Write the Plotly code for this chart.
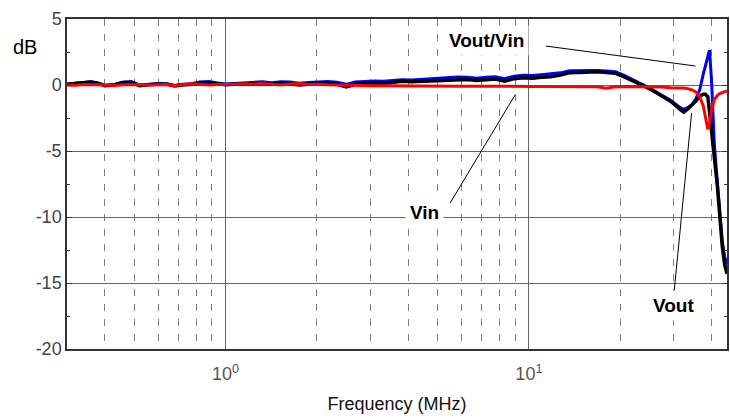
import math
import plotly.graph_objects as go

# ---------------- data ----------------
freq_mhz = [0.30, 0.32, 0.34, 0.36, 0.38, 0.40, 0.43, 0.46, 0.49, 0.52,
            0.56, 0.60, 0.64, 0.68, 0.72, 0.77, 0.82, 0.88, 0.94, 1.00,
            1.07, 1.15, 1.23, 1.32, 1.42, 1.52, 1.63, 1.75, 1.88, 2.02,
            2.17, 2.33, 2.50, 2.68, 2.88, 3.09, 3.32, 3.56, 3.82, 4.10,
            4.40, 4.72, 5.07, 5.44, 5.84, 6.27, 6.73, 7.22, 7.75, 8.32,
            8.93, 9.58, 10.3, 11.0, 11.8, 12.7, 13.6, 14.6, 15.7, 16.8,
            18.0, 19.3, 20.7, 22.2, 23.8, 25.5, 27.4, 29.4, 31.5, 32.4,
            33.5, 34.6, 35.6, 36.6, 37.6, 38.2, 38.9, 39.4, 40.0, 40.9,
            41.8, 42.6, 43.4, 44.2, 45.0]

vout_db = [0.05, 0.10, 0.20, 0.22, 0.12, -0.05, 0.00, 0.18, 0.20, -0.05,
           0.02, 0.08, 0.06, -0.08, 0.00, 0.05, 0.12, 0.15, 0.10, 0.02,
           0.05, 0.08, 0.10, 0.12, 0.06, 0.12, 0.10, 0.00, 0.05, 0.10,
           0.12, 0.05, -0.15, 0.05, 0.12, 0.15, 0.12, 0.20, 0.28, 0.25,
           0.28, 0.30, 0.35, 0.38, 0.45, 0.42, 0.35, 0.42, 0.45, 0.28,
           0.48, 0.55, 0.52, 0.58, 0.62, 0.75, 0.92, 0.95, 0.98, 1.00,
           0.95, 0.88, 0.60, 0.30, -0.05, -0.40, -0.85, -1.25, -1.85, -2.05,
           -1.80, -1.50, -1.20, -0.85, -0.70, -0.70, -0.90, -2.00, -3.30, -5.20,
           -7.60, -9.90, -12.20, -13.60, -14.30]

vout_vin_db = [0.07, 0.14, 0.24, 0.25, 0.15, -0.02, 0.04, 0.22, 0.24, 0.00,
               0.06, 0.12, 0.10, -0.04, 0.05, 0.10, 0.22, 0.26, 0.16, 0.08,
               0.12, 0.16, 0.20, 0.24, 0.18, 0.25, 0.22, 0.14, 0.18, 0.24,
               0.26, 0.20, 0.05, 0.22, 0.28, 0.30, 0.28, 0.34, 0.40, 0.38,
               0.42, 0.45, 0.50, 0.54, 0.60, 0.58, 0.52, 0.58, 0.62, 0.48,
               0.66, 0.74, 0.72, 0.78, 0.84, 0.92, 1.08, 1.10, 1.08, 1.10,
               1.06, 1.00, 0.72, 0.40, 0.02, -0.35, -0.80, -1.18, -1.70, -1.85,
               -1.70, -1.45, -1.00, -0.35, 0.85, 1.50, 2.30, 2.65, 0.40, -4.60,
               -7.30, -9.60, -11.80, -13.00, -13.60]

vin_db = [0.00, -0.02, 0.03, 0.05, 0.02, 0.00, -0.03, 0.02, 0.05, 0.03,
          0.00, 0.02, 0.04, -0.04, 0.02, 0.10, 0.06, 0.00, 0.03, 0.02,
          0.05, 0.10, 0.06, 0.12, 0.05, 0.00, 0.08, 0.12, 0.04, 0.06,
          0.02, 0.00, -0.04, -0.05, -0.05, -0.06, -0.06, -0.07, -0.08, -0.08,
          -0.08, -0.08, -0.08, -0.08, -0.09, -0.09, -0.10, -0.10, -0.10, -0.10,
          -0.10, -0.10, -0.11, -0.11, -0.12, -0.12, -0.12, -0.12, -0.12, -0.14,
          -0.25, -0.14, -0.12, -0.12, -0.12, -0.14, -0.16, -0.20, -0.20, -0.22,
          -0.28, -0.38, -0.55, -0.90, -1.60, -2.30, -3.35, -2.90, -1.90, -1.10,
          -0.80, -0.65, -0.55, -0.50, -0.45]

x_range_mhz = [0.3, 45.0]
y_range_db = [-20, 5]
y_major = [-20, -15, -10, -5, 0, 5]
y_major_text = ["-20", "-15", "-10", "-5", "0", "5"]
x_major = [1, 10]
x_major_text = ["10<sup>0</sup>", "10<sup>1</sup>"]
x_minor = [0.4, 0.5, 0.6, 0.7, 0.8, 0.9, 2, 3, 4, 5, 6, 7, 8, 9, 20, 30, 40]

# callouts: (label, text_freq, text_db, line_start_freq, line_start_db, line_end_freq, line_end_db)
callouts = [
    ("Vout/Vin", 7.23, 3.37, 11.38, 2.95, 35.4, 1.44),
    ("Vin", 4.52, -9.66, 5.50, -8.94, 9.0, -0.76),
    ("Vout", 30.0, -16.74, 30.0, -16.06, 34.4, -2.12),
]

# ---------------- figure ----------------
lx0, lx1 = math.log10(x_range_mhz[0]), math.log10(x_range_mhz[1])


def xpaper(f):
    return (math.log10(f) - lx0) / (lx1 - lx0)


fig = go.Figure()
fig.add_trace(go.Scatter(x=freq_mhz, y=vout_vin_db, mode="lines",
                         line=dict(color="#0000ff", width=3), name="Vout/Vin"))
fig.add_trace(go.Scatter(x=freq_mhz, y=vout_db, mode="lines",
                         line=dict(color="#000000", width=3.5), name="Vout"))
fig.add_trace(go.Scatter(x=freq_mhz, y=vin_db, mode="lines",
                         line=dict(color="#ff0000", width=3), name="Vin"))

label_font = dict(family="Liberation Sans, Arial", size=19, color="#000000")

for label, tf, tdb, sf, sdb, ef, edb in callouts:
    fig.add_shape(type="line", xref="paper", yref="y",
                  x0=xpaper(sf), y0=sdb, x1=xpaper(ef), y1=edb,
                  line=dict(color="#000000", width=1))
    fig.add_annotation(xref="paper", yref="y", x=xpaper(tf), y=tdb,
                       text="<b>" + label + "</b>", showarrow=False,
                       font=label_font, bgcolor="#ffffff", borderpad=4,
                       xanchor="center", yanchor="middle")

fig.add_annotation(xref="paper", yref="paper", x=0, xshift=-42, y=0.915,
                   text="dB", showarrow=False, xanchor="center", yanchor="middle",
                   font=dict(family="Liberation Sans, Arial", size=20, color="#000000"))

fig.update_xaxes(type="log", range=[lx0, lx1],
                 tickvals=x_major, ticktext=x_major_text,
                 tickfont=dict(family="Liberation Sans, Arial", size=18, color="#555555"),
                 ticklabelstandoff=8,
                 showgrid=True, gridcolor="#666666", gridwidth=1,
                 showline=True, linecolor="#333333", linewidth=1.5, mirror=True,
                 ticks="", zeroline=False,
                 minor=dict(tickvals=x_minor, showgrid=True, gridcolor="#808080",
                            gridwidth=1, griddash="7px,8px", ticks=""),
                 title=dict(text="Frequency (MHz)", standoff=14,
                            font=dict(family="Liberation Sans, Arial", size=18,
                                      color="#111111")))

fig.update_yaxes(range=y_range_db, tickvals=y_major, ticktext=y_major_text,
                 tickfont=dict(family="Liberation Sans, Arial", size=18, color="#444444"),
                 showgrid=True, gridcolor="#666666", gridwidth=1,
                 showline=True, linecolor="#333333", linewidth=1.5, mirror="ticks",
                 ticks="inside", ticklen=5, tickcolor="#333333", zeroline=False,
                 minor=dict(dtick=2.5, ticks="inside", ticklen=3, tickcolor="#333333",
                            showgrid=False))

fig.update_layout(width=730, height=418,
                  margin=dict(l=67, r=1, t=19, b=69),
                  plot_bgcolor="#ffffff", paper_bgcolor="#ffffff",
                  showlegend=False,
                  font=dict(family="Liberation Sans, Arial"))

fig.write_html("out.html")
